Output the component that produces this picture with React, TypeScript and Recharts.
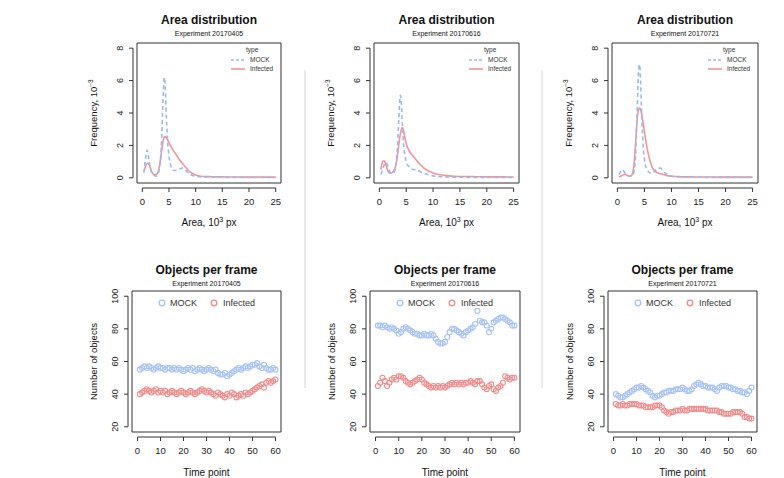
import React from 'react';
import { LineChart, Line, ScatterChart, Scatter, XAxis, YAxis, ReferenceArea, ReferenceLine } from 'recharts';

// ---------- data ----------
const EXPERIMENTS = ['Experiment 20170405', 'Experiment 20170616', 'Experiment 20170721'];
const SERIES_NAMES = ['MOCK', 'Infected'];

const AREA_X = [0.3, 0.6, 0.9, 1.2, 1.5, 1.8, 2.2, 2.6, 3.0, 3.3, 3.6, 3.9, 4.1, 4.3, 4.5, 4.8, 5.1, 5.5, 6.0, 6.5, 7.0, 7.5, 8.0, 8.5, 9.0, 10, 11, 12, 13, 14, 16, 18, 20, 22, 24, 25];
const AREA_TICKS = [0, 5, 10, 15, 20, 25];
const FREQ_TICKS = [0, 2, 4, 6, 8];

const AREA_MOCK_1 = [0.3, 1.2, 1.7, 1.2, 0.6, 0.3, 0.15, 0.1, 0.3, 0.8, 2.2, 5.0, 6.2, 5.6, 3.8, 2.0, 1.1, 0.6, 0.45, 0.45, 0.55, 0.6, 0.5, 0.35, 0.2, 0.1, 0.06, 0.05, 0.04, 0.04, 0.03, 0.03, 0.02, 0.02, 0.02, 0.02];
const AREA_INF_1 = [0.4, 0.7, 0.9, 0.85, 0.6, 0.35, 0.2, 0.2, 0.4, 0.9, 1.6, 2.3, 2.5, 2.55, 2.45, 2.3, 2.1, 1.85, 1.6, 1.35, 1.1, 0.9, 0.7, 0.5, 0.35, 0.18, 0.1, 0.08, 0.07, 0.06, 0.05, 0.05, 0.04, 0.04, 0.04, 0.04];
const AREA_MOCK_2 = [0.2, 0.5, 0.8, 0.95, 0.8, 0.5, 0.3, 0.3, 0.6, 1.5, 3.5, 5.1, 4.6, 3.2, 2.1, 1.3, 0.9, 0.7, 0.55, 0.5, 0.45, 0.4, 0.3, 0.25, 0.2, 0.12, 0.08, 0.06, 0.05, 0.04, 0.03, 0.03, 0.02, 0.02, 0.02, 0.02];
const AREA_INF_2 = [0.5, 1.0, 1.05, 0.8, 0.5, 0.3, 0.3, 0.4, 0.7, 1.2, 2.0, 2.7, 3.0, 3.1, 2.9, 2.4, 2.0, 1.7, 1.45, 1.25, 1.05, 0.85, 0.7, 0.55, 0.45, 0.3, 0.2, 0.15, 0.12, 0.1, 0.08, 0.07, 0.06, 0.06, 0.05, 0.05];
const AREA_MOCK_3 = [0.2, 0.4, 0.5, 0.4, 0.25, 0.15, 0.1, 0.1, 0.3, 1.0, 3.5, 6.5, 7.0, 5.8, 3.8, 1.8, 0.9, 0.5, 0.3, 0.3, 0.45, 0.6, 0.6, 0.4, 0.25, 0.1, 0.06, 0.05, 0.04, 0.04, 0.03, 0.03, 0.03, 0.03, 0.03, 0.03];
const AREA_INF_3 = [0.05, 0.1, 0.15, 0.2, 0.2, 0.15, 0.1, 0.15, 0.6, 1.8, 3.4, 4.2, 4.3, 4.2, 3.9, 3.3, 2.6, 1.8, 1.1, 0.6, 0.4, 0.3, 0.25, 0.2, 0.15, 0.1, 0.08, 0.06, 0.06, 0.05, 0.05, 0.05, 0.04, 0.04, 0.04, 0.04];

const TIME = [1, 2, 3, 4, 5, 6, 7, 8, 9, 10, 11, 12, 13, 14, 15, 16, 17, 18, 19, 20, 21, 22, 23, 24, 25, 26, 27, 28, 29, 30, 31, 32, 33, 34, 35, 36, 37, 38, 39, 40, 41, 42, 43, 44, 45, 46, 47, 48, 49, 50, 51, 52, 53, 54, 55, 56, 57, 58, 59, 60];
const TIME_TICKS = [0, 10, 20, 30, 40, 50, 60];
const COUNT_TICKS = [20, 40, 60, 80, 100];

const OBJ_MOCK_1 = [55, 56, 57, 56, 57, 56, 55, 56, 57, 56, 56, 55, 56, 56, 55, 56, 55, 56, 55, 54, 55, 56, 55, 56, 54, 55, 56, 55, 54, 55, 56, 55, 54, 55, 53, 52, 52, 53, 51, 52, 53, 54, 55, 56, 55, 56, 57, 56, 57, 58, 58, 59, 57, 56, 58, 56, 55, 55, 56, 55];
const OBJ_INF_1 = [40, 41, 42, 43, 42, 41, 42, 43, 41, 42, 41, 42, 40, 41, 42, 41, 40, 41, 42, 41, 40, 41, 42, 41, 40, 41, 42, 43, 42, 41, 42, 41, 40, 39, 41, 40, 39, 38, 40, 39, 41, 40, 38, 39, 40, 39, 41, 40, 41, 42, 43, 44, 45, 46, 44, 47, 48, 47, 48, 49];
const OBJ_MOCK_2 = [82, 82, 81, 82, 81, 80, 81, 80, 79, 77, 78, 80, 81, 80, 79, 78, 77, 77, 76, 76, 77, 76, 76, 77, 76, 74, 72, 71, 71, 72, 75, 78, 80, 80, 79, 78, 77, 76, 78, 79, 80, 81, 83, 91, 85, 84, 84, 82, 78, 80, 84, 85, 86, 87, 87, 86, 85, 84, 82, 82];
const OBJ_INF_2 = [45, 47, 50, 48, 45, 47, 49, 50, 49, 51, 51, 50, 48, 47, 46, 47, 48, 49, 50, 49, 47, 46, 45, 44, 45, 44, 45, 44, 45, 44, 45, 46, 47, 46, 47, 46, 47, 46, 47, 47, 48, 47, 46, 48, 48, 46, 44, 43, 45, 46, 43, 42, 44, 45, 47, 51, 50, 49, 50, 50];
const OBJ_MOCK_3 = [40, 39, 38, 38, 39, 40, 41, 42, 43, 44, 44, 45, 44, 43, 42, 41, 39, 38, 39, 39, 40, 41, 41, 42, 42, 42, 43, 43, 43, 44, 43, 42, 42, 43, 45, 46, 47, 46, 45, 45, 44, 44, 44, 43, 42, 44, 45, 45, 45, 44, 44, 43, 43, 42, 42, 41, 41, 40, 42, 44];
const OBJ_INF_3 = [34, 33, 33, 34, 33, 33, 34, 34, 34, 34, 33, 33, 33, 32, 32, 32, 32, 33, 33, 33, 32, 30, 29, 28, 29, 29, 30, 30, 30, 31, 30, 30, 31, 31, 31, 31, 31, 31, 31, 31, 30, 30, 30, 30, 30, 29, 29, 28, 28, 28, 28, 29, 29, 29, 29, 28, 26, 26, 25, 25];

const AREA_MOCK = [AREA_MOCK_1, AREA_MOCK_2, AREA_MOCK_3];
const AREA_INF = [AREA_INF_1, AREA_INF_2, AREA_INF_3];
const OBJ_MOCK = [OBJ_MOCK_1, OBJ_MOCK_2, OBJ_MOCK_3];
const OBJ_INF = [OBJ_INF_1, OBJ_INF_2, OBJ_INF_3];

// ---------- layout / style ----------
const W = 784;
const H = 478;
const FONT = '"Liberation Sans", Arial, Helvetica, sans-serif';
const INK = '#333';
const BLUE = '#9ab9f2';
const RED = '#f39595';
const BLUE_PT = '#a6c2f5';
const RED_PT = '#f28a8a';

const TOP_COLS = [{ l: 137, r: 281 }, { l: 374, r: 519 }, { l: 612, r: 758 }];
const TOP_T = 43;
const TOP_B = 183;
const BOT_COLS = [{ l: 132, r: 281 }, { l: 370, r: 520 }, { l: 608, r: 757 }];
const BOT_T = 291;
const BOT_B = 432;
const AX = 1; // axis box thickness (non-zero so ticks render)

const AREA_DOM: [number, number] = [-1, 26];
const FREQ_DOM: [number, number] = [-0.32, 8.32];
const TIME_DOM: [number, number] = [-2.4, 62.4];
const COUNT_DOM: [number, number] = [16.8, 103.2];

const XTick = (props: any) => {
  const { x, y, payload } = props;
  return (
    <g>
      <line x1={x} x2={x} y1={y + 5} y2={y + 9} stroke={INK} strokeWidth={1} />
      <text x={x} y={y + 21.5} textAnchor="middle" fontSize={9.5} fontFamily={FONT} fill="#222">
        {payload.value}
      </text>
    </g>
  );
};

const YTick = (props: any) => {
  const { x, y, payload } = props;
  return (
    <g>
      <line x1={x - 4} x2={x - 8} y1={y} y2={y} stroke={INK} strokeWidth={1} />
      <text
        x={x - 14}
        y={y}
        transform={`rotate(-90 ${x - 14} ${y})`}
        textAnchor="middle"
        fontSize={9}
        fontFamily={FONT}
        fill="#222"
      >
        {payload.value}
      </text>
    </g>
  );
};

const ring = (color: string) => (p: any) => (
  <circle cx={p.cx} cy={p.cy} r={2.5} fill="none" stroke={color} strokeWidth={1.1} />
);

function DensityPanel({ idx }: { idx: number }) {
  const { l, r } = TOP_COLS[idx];
  const data = AREA_X.map((x, i) => ({ x, mock: AREA_MOCK[idx][i], inf: AREA_INF[idx][i] }));
  const pxX = (r - l) / (AREA_DOM[1] - AREA_DOM[0]);
  const pxY = (TOP_B - TOP_T) / (FREQ_DOM[1] - FREQ_DOM[0]);
  const yLine = FREQ_DOM[0] - 5 / pxY;
  const xLine = AREA_DOM[0] - 4 / pxX;
  return (
    <div style={{ position: 'absolute', left: 0, top: 0 }}>
      <LineChart width={W} height={H} data={data} margin={{ left: l - AX, right: W - r, top: TOP_T, bottom: H - TOP_B - AX }}>
        <XAxis dataKey="x" type="number" domain={AREA_DOM} ticks={AREA_TICKS} interval={0} height={AX}
          axisLine={false} tickLine={false} tickSize={0} tickMargin={0} tick={<XTick />} allowDataOverflow />
        <YAxis type="number" domain={FREQ_DOM} ticks={FREQ_TICKS} interval={0} width={AX}
          axisLine={false} tickLine={false} tickSize={0} tickMargin={0} tick={<YTick />} allowDataOverflow />
        <ReferenceArea x1={AREA_DOM[0]} x2={AREA_DOM[1]} y1={FREQ_DOM[0]} y2={FREQ_DOM[1]}
          fill="none" fillOpacity={0} stroke={INK} strokeWidth={1} ifOverflow="visible" />
        <ReferenceLine segment={[{ x: AREA_TICKS[0], y: yLine }, { x: AREA_TICKS[AREA_TICKS.length - 1], y: yLine }]}
          stroke={INK} ifOverflow="visible" />
        <ReferenceLine segment={[{ x: xLine, y: FREQ_TICKS[0] }, { x: xLine, y: FREQ_TICKS[FREQ_TICKS.length - 1] }]}
          stroke={INK} ifOverflow="visible" />
        <Line dataKey="inf" name={SERIES_NAMES[1]} type="monotone" stroke={RED} strokeWidth={1.6} dot={false} isAnimationActive={false} />
        <Line dataKey="mock" name={SERIES_NAMES[0]} type="monotone" stroke={BLUE} strokeWidth={1.6} strokeDasharray="4 3" dot={false} isAnimationActive={false} />
      </LineChart>
    </div>
  );
}

function ObjectsPanel({ idx }: { idx: number }) {
  const { l, r } = BOT_COLS[idx];
  const mock = TIME.map((t, i) => ({ t, v: OBJ_MOCK[idx][i] }));
  const inf = TIME.map((t, i) => ({ t, v: OBJ_INF[idx][i] }));
  const pxX = (r - l) / (TIME_DOM[1] - TIME_DOM[0]);
  const pxY = (BOT_B - BOT_T) / (COUNT_DOM[1] - COUNT_DOM[0]);
  const yLine = COUNT_DOM[0] - 5 / pxY;
  const xLine = TIME_DOM[0] - 4 / pxX;
  return (
    <div style={{ position: 'absolute', left: 0, top: 0 }}>
      <ScatterChart width={W} height={H} margin={{ left: l - AX, right: W - r, top: BOT_T, bottom: H - BOT_B - AX }}>
        <XAxis dataKey="t" type="number" domain={TIME_DOM} ticks={TIME_TICKS} interval={0} height={AX}
          axisLine={false} tickLine={false} tickSize={0} tickMargin={0} tick={<XTick />} allowDataOverflow />
        <YAxis dataKey="v" type="number" domain={COUNT_DOM} ticks={COUNT_TICKS} interval={0} width={AX}
          axisLine={false} tickLine={false} tickSize={0} tickMargin={0} tick={<YTick />} allowDataOverflow />
        <ReferenceArea x1={TIME_DOM[0]} x2={TIME_DOM[1]} y1={COUNT_DOM[0]} y2={COUNT_DOM[1]}
          fill="none" fillOpacity={0} stroke={INK} strokeWidth={1} ifOverflow="visible" />
        <ReferenceLine segment={[{ x: TIME_TICKS[0], y: yLine }, { x: TIME_TICKS[TIME_TICKS.length - 1], y: yLine }]}
          stroke={INK} ifOverflow="visible" />
        <ReferenceLine segment={[{ x: xLine, y: COUNT_TICKS[0] }, { x: xLine, y: COUNT_TICKS[COUNT_TICKS.length - 1] }]}
          stroke={INK} ifOverflow="visible" />
        <Scatter name={SERIES_NAMES[0]} data={mock} shape={ring(BLUE_PT)} isAnimationActive={false} />
        <Scatter name={SERIES_NAMES[1]} data={inf} shape={ring(RED_PT)} isAnimationActive={false} />
      </ScatterChart>
    </div>
  );
}

function Overlay() {
  return (
    <svg width={W} height={H} style={{ position: 'absolute', left: 0, top: 0, pointerEvents: 'none' }} fontFamily={FONT}>
      <line x1={305} x2={305} y1={70} y2={388} stroke="#d6d6d6" strokeWidth={1} />
      <line x1={542} x2={542} y1={70} y2={388} stroke="#d6d6d6" strokeWidth={1} />
      {TOP_COLS.map(({ l, r }, i) => {
        const cx = (l + r) / 2;
        const cy = (TOP_T + TOP_B) / 2;
        return (
          <g key={'t' + i} fill="#111">
            <text x={cx} y={24} textAnchor="middle" fontSize={12} fontWeight="bold">Area distribution</text>
            <text x={cx} y={35.5} textAnchor="middle" fontSize={7}>{EXPERIMENTS[i]}</text>
            <text x={cx} y={225.5} textAnchor="middle" fontSize={10}>
              Area, 10<tspan dy={-4} fontSize={7}>3</tspan><tspan dy={4}> px</tspan>
            </text>
            <text x={l - 40.5} y={cy} transform={`rotate(-90 ${l - 40.5} ${cy})`} textAnchor="middle" fontSize={9.5}>
              Frequency, 10<tspan dy={-4} fontSize={6.5}>−3</tspan>
            </text>
            <text x={r - 35} y={52} fontSize={6.5} fill="#333">type</text>
            <line x1={r - 50} x2={r - 36} y1={60} y2={60} stroke={BLUE} strokeWidth={1.6} strokeDasharray="3 2" />
            <text x={r - 31} y={62.3} fontSize={6.5} fill="#333">{SERIES_NAMES[0]}</text>
            <line x1={r - 50} x2={r - 36} y1={69} y2={69} stroke={RED} strokeWidth={1.6} />
            <text x={r - 31} y={71.3} fontSize={6.5} fill="#333">{SERIES_NAMES[1]}</text>
          </g>
        );
      })}
      {BOT_COLS.map(({ l, r }, i) => {
        const cx = (l + r) / 2;
        const cy = (BOT_T + BOT_B) / 2;
        return (
          <g key={'b' + i} fill="#111">
            <text x={cx} y={274} textAnchor="middle" fontSize={12} fontWeight="bold">Objects per frame</text>
            <text x={cx} y={286} textAnchor="middle" fontSize={7}>{EXPERIMENTS[i]}</text>
            <text x={cx} y={475.5} textAnchor="middle" fontSize={10}>Time point</text>
            <text x={l - 35.5} y={cy} transform={`rotate(-90 ${l - 35.5} ${cy})`} textAnchor="middle" fontSize={9.5}>
              Number of objects
            </text>
            <circle cx={l + 30} cy={303} r={2.8} fill="none" stroke={BLUE_PT} strokeWidth={1.3} />
            <text x={l + 38} y={306.2} fontSize={9} fill="#333">{SERIES_NAMES[0]}</text>
            <circle cx={l + 82} cy={303} r={2.8} fill="none" stroke={RED_PT} strokeWidth={1.3} />
            <text x={l + 91} y={306.2} fontSize={9} fill="#333">{SERIES_NAMES[1]}</text>
          </g>
        );
      })}
    </svg>
  );
}

export default function App() {
  return (
    <div style={{ position: 'absolute', left: 0, top: 0, width: W, height: H, background: '#fff', overflow: 'hidden' }}>
      {[0, 1, 2].map((i) => <DensityPanel key={'d' + i} idx={i} />)}
      {[0, 1, 2].map((i) => <ObjectsPanel key={'o' + i} idx={i} />)}
      <Overlay />
    </div>
  );
}
